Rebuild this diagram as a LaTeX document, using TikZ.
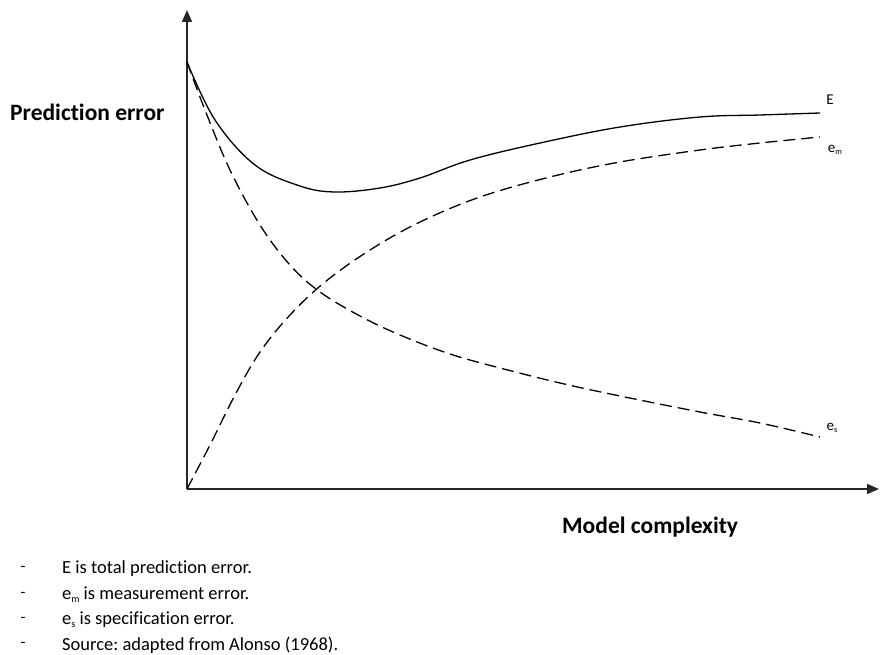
\documentclass[tikz,border=0pt]{standalone}
\usepackage{fontspec}
\usepackage{graphicx}
\setmainfont[Ligatures=NoCommon]{Carlito}
\usetikzlibrary{arrows.meta}
% small lowered subscript, as in e_m and e_s
\newcommand\lowsub[1]{\raisebox{-0.35ex}{\scalebox{0.55}{#1}}}
\frenchspacing
\begin{document}
\begin{tikzpicture}[x=1pt,y=-1pt,
  axis/.style={line width=1.6pt,draw=black!85,-{Triangle[length=12pt,width=10pt]}},
  curve/.style={line width=1.3pt,smooth,tension=0.6},
  dashcurve/.style={curve,dash pattern=on 12pt off 6pt},
  axislabel/.style={font=\fontsize{23.5}{27}\selectfont\bfseries,inner sep=0pt},
  curvelabel/.style={font=\fontsize{15}{17}\selectfont,inner sep=0pt},
  note/.style={font=\fontsize{18.5}{21}\selectfont,inner sep=0pt,anchor=west},
  dashmark/.style={font=\fontsize{16}{21}\selectfont,inner sep=0pt}]
\useasboundingbox (0,0) rectangle (880,655);

% axes
\coordinate (origin) at (187,489);
\coordinate (ytop) at (187,10);
\coordinate (xend) at (879,489);
\draw[axis] (origin) -- (ytop);
\draw[axis] (origin) -- (xend);

% curves
\draw[curve] plot coordinates {(187,62) (215,120) (255,165) (300,186) (335,192) (380,188) (420,178) (470,160) (540,143) (620,127) (700,117) (760,115) (820,113)};
\draw[dashcurve] plot coordinates {(187,62) (205,110) (230,170) (260,225) (290,265) (320,292) (360,316) (400,335) (450,354) (500,368) (560,383) (620,396) (700,412) (760,423) (820,437)};
\draw[dashcurve] plot coordinates {(187,489) (210,445) (235,395) (260,352) (290,315) (325,282) (370,250) (420,222) (480,197) (550,177) (620,162) (700,150) (760,143) (820,137)};

% curve labels
\node[curvelabel] (lE) at (830,100) {E};
\node[curvelabel] (lem) at (835,150) {e\lowsub{m}};
\node[curvelabel] (les) at (832,428) {e\lowsub{s}};

% axis labels
\node[axislabel,anchor=west] (ylab) at (10,112) {Prediction error};
\node[axislabel,anchor=west] (xlab) at (562,527) {Model complexity};

% notes
\foreach \i/\y/\t in {1/569/{E is total prediction error.},
                      2/595/{e\lowsub{m} is measurement error.},
                      3/620/{e\lowsub{s} is specification error.},
                      4/645/{Source: adapted from Alonso (1968).}} {
  \node[dashmark] (d\i) at (23,\y) {-};
  \node[note] (n\i) at (62,\y) {\t};
}
\end{tikzpicture}
\end{document}
